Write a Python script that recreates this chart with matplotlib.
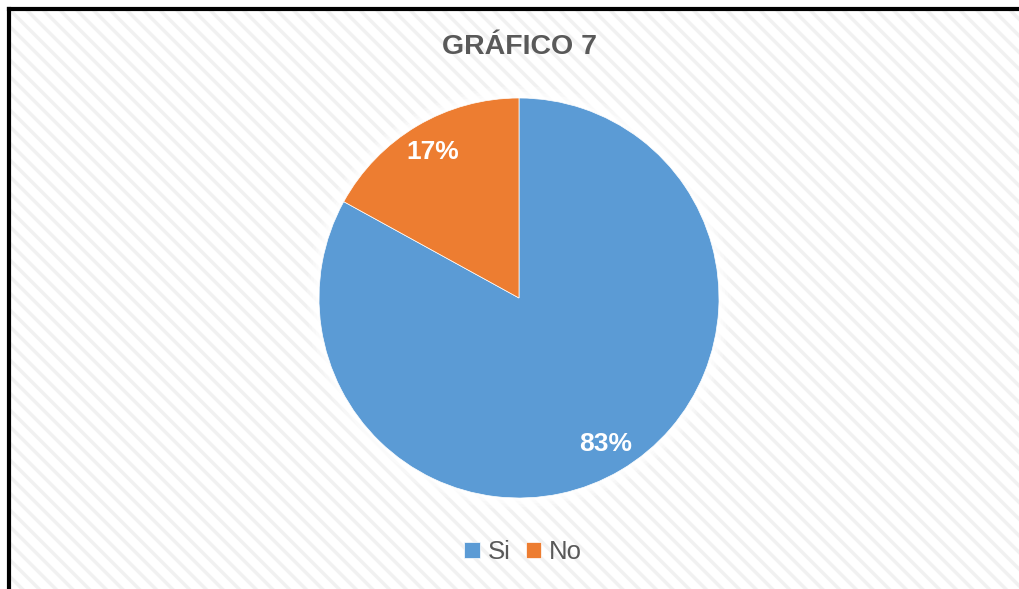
import matplotlib
matplotlib.use('Agg')
import matplotlib.pyplot as plt
from matplotlib.patches import Rectangle, Circle
from matplotlib.lines import Line2D

labels = ['Si', 'No']
values = [83, 17]
colors = ['#5B9BD5', '#ED7D31']
title = 'GRÁFICO 7'

plt.rcParams['font.family'] = ['Liberation Sans', 'DejaVu Sans']
plt.rcParams['hatch.linewidth'] = 2.5

W, H = 1019, 589
fig = plt.figure(figsize=(W / 100, H / 100), dpi=100)
fig.patch.set_facecolor('white')

# hatched chart area
bg = Rectangle((10 / W, 0), 1 - 10 / W, 1 - 10 / H, transform=fig.transFigure,
               facecolor='white', edgecolor='#f1f1f1', hatch='\\\\', linewidth=0, zorder=-5)
fig.add_artist(bg)
# black frame, left and top only
fig.add_artist(Line2D([9 / W, 9 / W], [0, 1 - 9 / H], transform=fig.transFigure,
                      color='black', linewidth=3, zorder=1))
fig.add_artist(Line2D([9 / W, 1], [1 - 9 / H, 1 - 9 / H], transform=fig.transFigure,
                      color='black', linewidth=3, zorder=1))

fig.text(519 / W, 1 - 47 / H, title, ha='center', va='center', fontsize=20.5,
         fontweight='bold', color='#595959')

# pie axes: centre (519, 298), radius 200 px
r = 200
pad = 1.15
ax = fig.add_axes([(519 - r * pad) / W, (H - 298 - r * pad) / H, 2 * r * pad / W, 2 * r * pad / H])
ax.set_zorder(2)
ax.patch.set_visible(False)

wedges, texts, autotexts = ax.pie(values, colors=colors, startangle=90, counterclock=False,
                                  radius=1, autopct='%1.0f%%', pctdistance=0.85,
                                  wedgeprops=dict(edgecolor='white', linewidth=0.5),
                                  textprops=dict(color='white', fontsize=19, fontweight='bold'))
for w in wedges:
    w.set_zorder(2)
for t in autotexts:
    t.set_zorder(3)

# soft glow around the pie
for k, a in zip([1.06, 1.045, 1.03, 1.015], [0.25, 0.35, 0.45, 0.6]):
    ax.add_patch(Circle((0, 0), k, facecolor='white', edgecolor='none', alpha=a, zorder=1))

ax.set_xlim(-pad, pad)
ax.set_ylim(-pad, pad)
ax.set_aspect('equal')
ax.axis('off')

leg = fig.legend(wedges, labels, loc='center', bbox_to_anchor=(523 / W, 1 - 552 / H),
                 ncol=2, frameon=False, fontsize=18.5, handlelength=0.6, handleheight=0.6,
                 handletextpad=0.3, columnspacing=0.6, labelcolor='#595959')
leg.set_zorder(3)

fig.savefig('out.png', dpi=100)
